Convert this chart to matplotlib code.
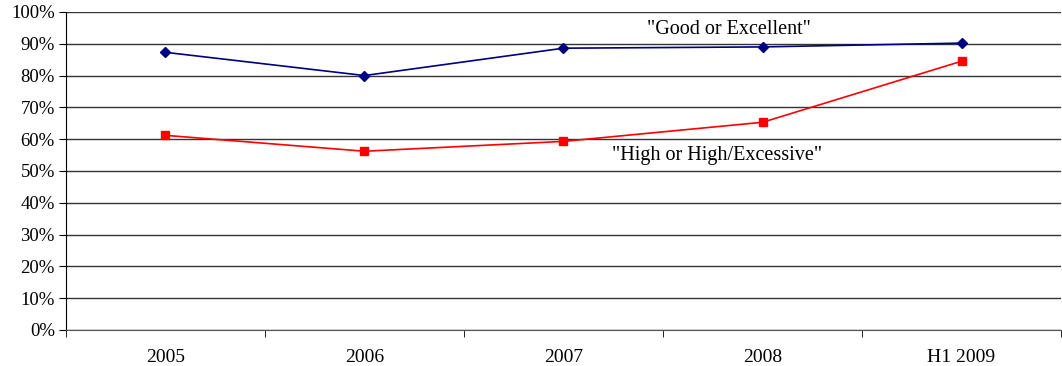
import matplotlib
matplotlib.use("Agg")
import matplotlib.pyplot as plt
from matplotlib.ticker import FixedLocator

plt.rcParams['font.family'] = ['Liberation Serif', 'DejaVu Serif']

# data
categories = ['2005', '2006', '2007', '2008', 'H1 2009']
good_excellent = [87.3, 80.0, 88.6, 89.0, 90.2]
high_excessive = [61.2, 56.2, 59.3, 65.3, 84.5]
y_ticks = list(range(0, 101, 10))

fig = plt.figure(figsize=(10.62, 3.66), dpi=100)
ax = fig.add_axes([0.0621, 0.0984, 0.937, 0.869])

x = list(range(len(categories)))
ax.plot(x, good_excellent, color='#000080', lw=1.2, marker='D', ms=5.5, zorder=3)
ax.plot(x, high_excessive, color='#ff0000', lw=1.2, marker='s', ms=6, zorder=3)

ax.set_xlim(-0.5, len(categories) - 0.5)
ax.set_ylim(0, 100)
ax.set_yticks(y_ticks)
ax.set_yticklabels([f'{v}%' for v in y_ticks], fontsize=13.5)
ax.yaxis.grid(True, color='#333333', lw=1)
ax.set_axisbelow(True)

# categories sit between tick marks
ax.set_xticks(x)
ax.set_xticklabels(categories, fontsize=14)
ax.tick_params(axis='x', which='major', length=0, pad=14)
ax.xaxis.set_minor_locator(FixedLocator([i + 0.5 for i in range(-1, len(categories))]))
ax.tick_params(axis='x', which='minor', length=5, color='black')
ax.tick_params(axis='y', length=5, color='black', pad=3)

for s in ['top', 'right']:
    ax.spines[s].set_visible(False)
ax.spines['bottom'].set_color('#555555')

ax.text(2.83, 94.5, '"Good or Excellent"', ha='center', va='center', fontsize=14.5)
ax.text(2.77, 55, '"High or High/Excessive"', ha='center', va='center', fontsize=14.5)

fig.savefig('out.png', dpi=100)
